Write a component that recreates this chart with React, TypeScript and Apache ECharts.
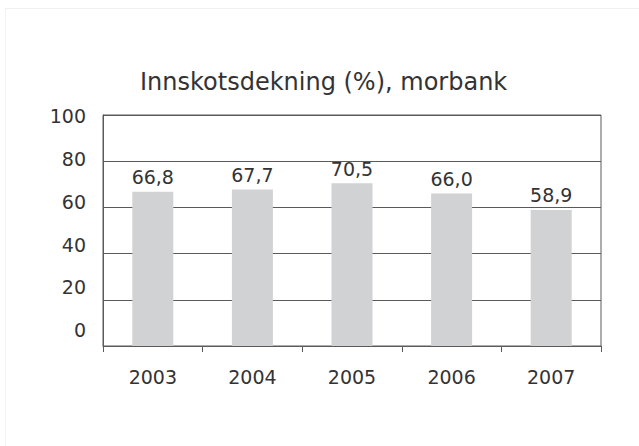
import React, { useEffect, useRef } from "react";
import * as echarts from "echarts";

const titleText = "Innskotsdekning (%), morbank";
const categories = ["2003", "2004", "2005", "2006", "2007"];
const values = [66.8, 67.7, 70.5, 66.0, 58.9];
const yTickLabels = [0, 20, 40, 60, 80, 100];

const FONT = "DejaVu Sans";
const TEXT = "#333333";
const LINE = "#5a5a5a";

export default function App() {
  const ref = useRef<HTMLDivElement>(null);
  useEffect(() => {
    if (!ref.current) return;
    const chart = echarts.init(ref.current, undefined, { renderer: "svg" });
    chart.setOption({
      animation: false,
      backgroundColor: "#ffffff",
      textStyle: { fontFamily: FONT },
      title: {
        text: titleText,
        left: 135,
        top: 65,
        textStyle: { fontFamily: FONT, fontSize: 24, fontWeight: "normal", color: TEXT },
      },
      graphic: [
        { type: "line", shape: { x1: 5, y1: 8.5, x2: 639, y2: 8.5 }, style: { stroke: "#f0f0f0", lineWidth: 1 } },
        { type: "line", shape: { x1: 5.5, y1: 8, x2: 5.5, y2: 446 }, style: { stroke: "#f3f3f3", lineWidth: 1 } },
      ],
      grid: {
        left: 103,
        right: 38,
        top: 115,
        bottom: 100,
        show: true,
        borderColor: LINE,
        borderWidth: 1,
      },
      xAxis: {
        type: "category",
        data: categories,
        boundaryGap: true,
        axisLine: { show: true, lineStyle: { color: LINE, width: 1 } },
        axisTick: { show: true, alignWithLabel: false, length: 6, lineStyle: { color: LINE } },
        axisLabel: { fontFamily: FONT, fontSize: 19, color: TEXT, margin: 21 },
        splitLine: { show: false },
      },
      yAxis: [
        {
          type: "value",
          min: 0,
          max: 100,
          interval: 20,
          axisLine: { show: true, lineStyle: { color: LINE, width: 1 } },
          axisTick: { show: false },
          axisLabel: { show: false },
          splitLine: { show: true, lineStyle: { color: LINE, width: 1 } },
        },
        {
          type: "value",
          position: "left",
          min: -7.34,
          max: 100.6,
          axisLine: { show: false },
          axisTick: { show: false },
          splitLine: { show: false },
          axisLabel: {
            show: true,
            customValues: yTickLabels,
            fontFamily: FONT,
            fontSize: 19,
            color: TEXT,
            margin: 17,
          },
        },
      ],
      series: [
        {
          type: "bar",
          yAxisIndex: 0,
          data: values,
          barWidth: 41,
          itemStyle: { color: "#d1d2d4" },
          label: {
            show: true,
            position: "top",
            distance: 5,
            fontFamily: FONT,
            fontSize: 19,
            color: TEXT,
            formatter: (p: any) => Number(p.value).toFixed(1).replace(".", ","),
          },
        },
      ],
    });
    return () => chart.dispose();
  }, []);
  return (
    <div
      ref={ref}
      style={{ position: "fixed", left: 0, top: 0, width: 639, height: 446 }}
    />
  );
}
